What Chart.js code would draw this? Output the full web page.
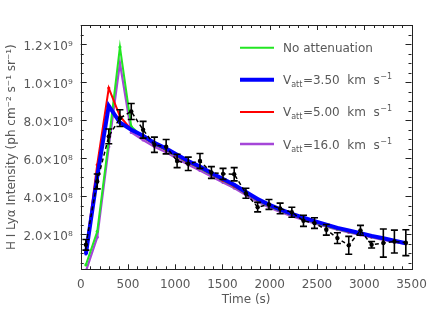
<!DOCTYPE html>
<html>
<head>
<meta charset="utf-8">
<script src="https://cdn.jsdelivr.net/npm/chart.js@4/dist/chart.umd.min.js"></script>
<style>
html, body { margin: 0; padding: 0; background: #fff; }
</style>
</head>
<body>
<canvas id="lyaChart" width="436" height="321"></canvas>
<script>
// H I Lya intensity, in units of 1e8 ph cm-2 s-1 sr-1
var obsTime = [55, 175, 297, 415, 535, 660, 780, 904, 1020, 1138, 1262, 1383, 1506, 1624, 1748,
    1872, 1992, 2110, 2234, 2357, 2474, 2599, 2716, 2836, 2960, 3078, 3202, 3319, 3440];
var obsValue = [1.44, 4.77, 7.14, 8.1, 8.45, 7.49, 6.7, 6.6, 5.85, 5.7, 5.85, 5.24, 5.17, 5.15, 4.15,
    3.42, 3.56, 3.35, 3.15, 2.7, 2.58, 2.23, 1.79, 1.41, 2.2, 1.44, 1.53, 1.61, 1.55];
var obsError = [0.28, 0.39, 0.39, 0.44, 0.42, 0.44, 0.4, 0.38, 0.35, 0.35, 0.39, 0.31, 0.29, 0.35, 0.26,
    0.25, 0.26, 0.28, 0.26, 0.29, 0.28, 0.28, 0.28, 0.47, 0.26, 0.17, 0.74, 0.6, 0.68];

// model curves on the same time grid
var noAtten = [0.38, 2.14, 6.9, 11.84, 7.66, 7.1, 6.72, 6.42, 6.08, 5.76, 5.46, 5.13, 4.81, 4.51, 4.14,
    3.78, 3.48, 3.23, 3.0, 2.8, 2.61, 2.43, 2.27, 2.13, 1.99, 1.86, 1.73, 1.61, 1.5];
var vatt350 = [0.96, 5.03, 8.75, 7.87, 7.49, 7.17, 6.8, 6.5, 6.17, 5.85, 5.55, 5.22, 4.9, 4.6, 4.22,
    3.85, 3.55, 3.3, 3.07, 2.87, 2.68, 2.5, 2.33, 2.19, 2.05, 1.91, 1.78, 1.65, 1.52];
var vatt500 = [1.05, 5.65, 9.68, 8.2, 7.5, 7.1, 6.73, 6.43, 6.1, 5.78, 5.48, 5.15, 4.83, 4.53, 4.16,
    3.8, 3.5, 3.25, 3.02, 2.82, 2.63, 2.45, 2.29, 2.15, 2.01, 1.87, 1.74, 1.62, 1.5];
var vatt160 = [0.05, 1.84, 6.6, 11.0, 7.35, 6.95, 6.6, 6.3, 5.97, 5.65, 5.35, 5.03, 4.72, 4.42, 4.05,
    3.7, 3.41, 3.16, 2.94, 2.74, 2.56, 2.39, 2.23, 2.09, 1.96, 1.83, 1.7, 1.59, 1.48];

var legendNames = ['No attenuation', '3.50', '5.00', '16.0'];
var yTickValues = [2, 4, 6, 8, 10, 12];
var yTickLabels = ['2.0\u00d710\u2078', '4.0\u00d710\u2078', '6.0\u00d710\u2078', '8.0\u00d710\u2078',
    '1.0\u00d710\u2079', '1.2\u00d710\u2079'];

var textGray = '#585858';
var green = '#22e622', blue = '#0000ff', red = '#ff0000', purple = '#a546d8';

function pts(vals) {
    return obsTime.map(function (t, i) { return { x: t, y: vals[i] }; });
}

function modelSet(vals, color, width, order) {
    return {
        data: pts(vals),
        borderColor: color,
        backgroundColor: color,
        borderWidth: width,
        pointRadius: 1.6,
        pointBorderWidth: 0,
        order: order
    };
}

// inward ticks on all four sides plus the frame
var frameTicks = {
    id: 'frameTicks',
    afterDraw: function (chart) {
        var ctx = chart.ctx, a = chart.chartArea;
        var xs = chart.scales.x, ys = chart.scales.y;
        ctx.save();
        ctx.strokeStyle = '#222';
        ctx.lineWidth = 1;
        ctx.beginPath();
        for (var t = 0; t <= 3500; t += 100) {
            var px = Math.round(xs.getPixelForValue(t)) + 0.5;
            var len = (t % 500 === 0) ? 5 : 3;
            ctx.moveTo(px, a.bottom); ctx.lineTo(px, a.bottom - len);
            ctx.moveTo(px, a.top); ctx.lineTo(px, a.top + len);
        }
        for (var k = 1; k <= 26; k++) {
            var v = k * 0.5;
            var py = Math.round(ys.getPixelForValue(v)) + 0.5;
            var l2 = (k % 4 === 0) ? 6 : 3;
            ctx.moveTo(a.left, py); ctx.lineTo(a.left + l2, py);
            ctx.moveTo(a.right, py); ctx.lineTo(a.right - l2, py);
        }
        ctx.stroke();
        ctx.strokeRect(Math.round(a.left) + 0.5, Math.round(a.top) + 0.5,
            Math.round(a.right - a.left), Math.round(a.bottom - a.top));
        ctx.restore();
    }
};

// error bars of the observed points
var errorBars = {
    id: 'errorBars',
    afterDatasetsDraw: function (chart) {
        var ctx = chart.ctx, xs = chart.scales.x, ys = chart.scales.y;
        ctx.save();
        ctx.strokeStyle = '#000';
        ctx.lineWidth = 1.6;
        ctx.beginPath();
        obsTime.forEach(function (t, i) {
            var x = xs.getPixelForValue(t);
            var y1 = ys.getPixelForValue(obsValue[i] - obsError[i]);
            var y2 = ys.getPixelForValue(obsValue[i] + obsError[i]);
            ctx.moveTo(x, y1); ctx.lineTo(x, y2);
            ctx.moveTo(x - 3.5, y1); ctx.lineTo(x + 3.5, y1);
            ctx.moveTo(x - 3.5, y2); ctx.lineTo(x + 3.5, y2);
        });
        ctx.stroke();
        ctx.restore();
    }
};

// legend with subscript / superscript text
var subLegend = {
    id: 'subLegend',
    afterDraw: function (chart) {
        var ctx = chart.ctx, a = chart.chartArea;
        var colors = [green, blue, red, purple];
        var widths = [2, 4, 2, 2.5];
        ctx.save();
        ctx.fillStyle = textGray;
        ctx.textBaseline = 'alphabetic';
        legendNames.forEach(function (name, i) {
            var y = a.top + 22.7 + i * 32.1;
            ctx.strokeStyle = colors[i];
            ctx.lineWidth = widths[i];
            ctx.beginPath();
            ctx.moveTo(240, y); ctx.lineTo(274, y);
            ctx.stroke();
            var x = 283;
            var base = y + 4.5;
            ctx.font = '12px "DejaVu Sans"';
            if (i === 0) {
                ctx.fillText(name, x, base);
                return;
            }
            ctx.fillText('V', x, base); x += ctx.measureText('V').width;
            ctx.font = '8px "DejaVu Sans"';
            ctx.fillText('att', x, base + 3); x += ctx.measureText('att').width + 0.5;
            ctx.font = '12px "DejaVu Sans"';
            var mid = '=' + name + '  km  s';
            ctx.fillText(mid, x, base); x += ctx.measureText(mid).width + 0.5;
            ctx.font = '8px "DejaVu Sans"';
            ctx.fillText('\u22121', x, base - 5);
        });
        ctx.restore();
    }
};

Chart.defaults.font.family = '"DejaVu Sans"';
Chart.defaults.font.size = 12;
Chart.defaults.color = textGray;

new Chart(document.getElementById('lyaChart'), {
    type: 'line',
    data: {
        datasets: [
            {
                data: pts(obsValue),
                borderColor: '#000',
                backgroundColor: '#000',
                borderWidth: 1.5,
                borderDash: [4, 3],
                pointRadius: 2.2,
                pointBorderWidth: 0,
                order: 0
            },
            modelSet(vatt350, blue, 4, 1),
            modelSet(vatt500, red, 2, 2),
            modelSet(noAtten, green, 2, 3),
            modelSet(vatt160, purple, 2.2, 4)
        ]
    },
    options: {
        responsive: false,
        animation: false,
        devicePixelRatio: 1,
        layout: { padding: { top: 25, right: 24.5, left: 0, bottom: 0 } },
        plugins: { legend: { display: false }, tooltip: { enabled: false } },
        scales: {
            x: {
                type: 'linear',
                min: 0,
                max: 3500,
                grid: { display: false, drawTicks: false },
                border: { display: false },
                ticks: {
                    stepSize: 500,
                    padding: 8,
                    maxRotation: 0,
                    callback: function (v) { return String(v); }
                },
                title: { display: true, text: 'Time (s)', padding: { top: 0, bottom: 13.5 } },
                afterFit: function (s) { s.height = 51.7; }
            },
            y: {
                type: 'linear',
                min: 0.15,
                max: 13,
                grid: { display: false, drawTicks: false },
                border: { display: false },
                ticks: {
                    padding: 8,
                    labelOffset: 3,
                    callback: function (v) {
                        var i = yTickValues.indexOf(v);
                        return i < 0 ? '' : yTickLabels[i];
                    }
                },
                afterBuildTicks: function (s) {
                    s.ticks = yTickValues.map(function (v) { return { value: v }; });
                },
                title: {
                    display: true,
                    text: 'H I Ly\u03b1 Intensity (ph cm\u207b\u00b2 s\u207b\u00b9 sr\u207b\u00b9)',
                    padding: { top: 5, bottom: 0 }
                },
                afterFit: function (s) { s.width = 80.7; }
            }
        }
    },
    plugins: [errorBars, frameTicks, subLegend]
});
</script>
</body>
</html>
